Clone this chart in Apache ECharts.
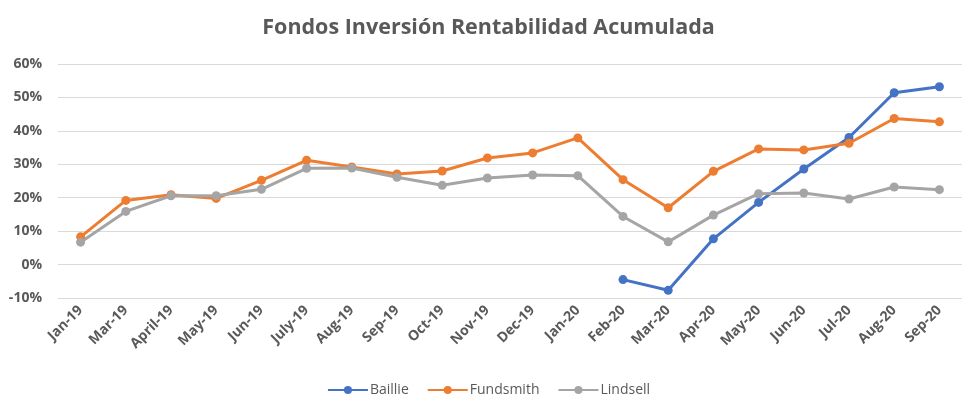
<!DOCTYPE html>
<html><head><meta charset="utf-8">
<script src="https://cdn.jsdelivr.net/npm/echarts@6/dist/echarts.min.js"></script>
<style>html,body{margin:0;padding:0;background:#fff}#c{width:977px;height:414px}</style>
</head><body><div id="c"></div>
<script>
const categories = ['Jan-19','Mar-19','April-19','May-19','Jun-19','July-19','Aug-19','Sep-19','Oct-19','Nov-19','Dec-19','Jan-20','Feb-20','Mar-20','Apr-20','May-20','Jun-20','Jul-20','Aug-20','Sep-20'];
const baillie = [null,null,null,null,null,null,null,null,null,null,null,null,-4.5,-7.7,7.7,18.6,28.6,38.0,51.4,53.2];
const fundsmith = [8.3,19.2,20.9,19.8,25.2,31.2,29.2,27.1,28.0,31.9,33.4,37.9,25.4,17.0,27.9,34.6,34.3,36.3,43.7,42.7];
const lindsell = [6.7,15.9,20.6,20.6,22.5,28.8,28.9,26.1,23.7,25.9,26.8,26.6,14.4,6.8,14.8,21.2,21.4,19.6,23.2,22.4];
const yTicks = {min:-10, max:60, interval:10};

const font = 'Open Sans';
const chart = echarts.init(document.getElementById('c'), null, {renderer:'canvas'});
function mk(name, data, color){
  return {name, type:'line', data, connectNulls:false, symbol:'circle', symbolSize:9,
    lineStyle:{width:3, color}, itemStyle:{color}, emphasis:{disabled:true}};
}
chart.setOption({
  animation:false,
  title:{text:'Fondos Inversión Rentabilidad Acumulada', left:'center', top:12,
    textStyle:{fontFamily:font, fontWeight:'bold', fontSize:21.5, color:'#595959'}},
  grid:{left:58, right:15, top:64, bottom:116},
  legend:{bottom:12, left:'center', itemWidth:40, itemHeight:10, itemGap:18,
    textStyle:{fontFamily:font, fontSize:14, color:'#595959', padding:[0,0,0,-3]},
    data:['Baillie','Fundsmith','Lindsell']},
  xAxis:{type:'category', data:categories, boundaryGap:true,
    axisLine:{show:false}, axisTick:{show:false},
    axisLabel:{rotate:45, interval:0, margin:10, fontFamily:font, fontSize:14, fontWeight:'bold', color:'#595959'}},
  yAxis:{type:'value', min:yTicks.min, max:yTicks.max, interval:yTicks.interval,
    axisLine:{show:false}, axisTick:{show:false},
    splitLine:{lineStyle:{color:'#d9d9d9', width:1}},
    axisLabel:{margin:16, formatter:v=>v+'%', fontFamily:font, fontSize:14, fontWeight:'bold', color:'#595959'}},
  series:[mk('Baillie', baillie, '#4472C4'), mk('Fundsmith', fundsmith, '#ED7D31'), mk('Lindsell', lindsell, '#A5A5A5')]
});
</script></body></html>
